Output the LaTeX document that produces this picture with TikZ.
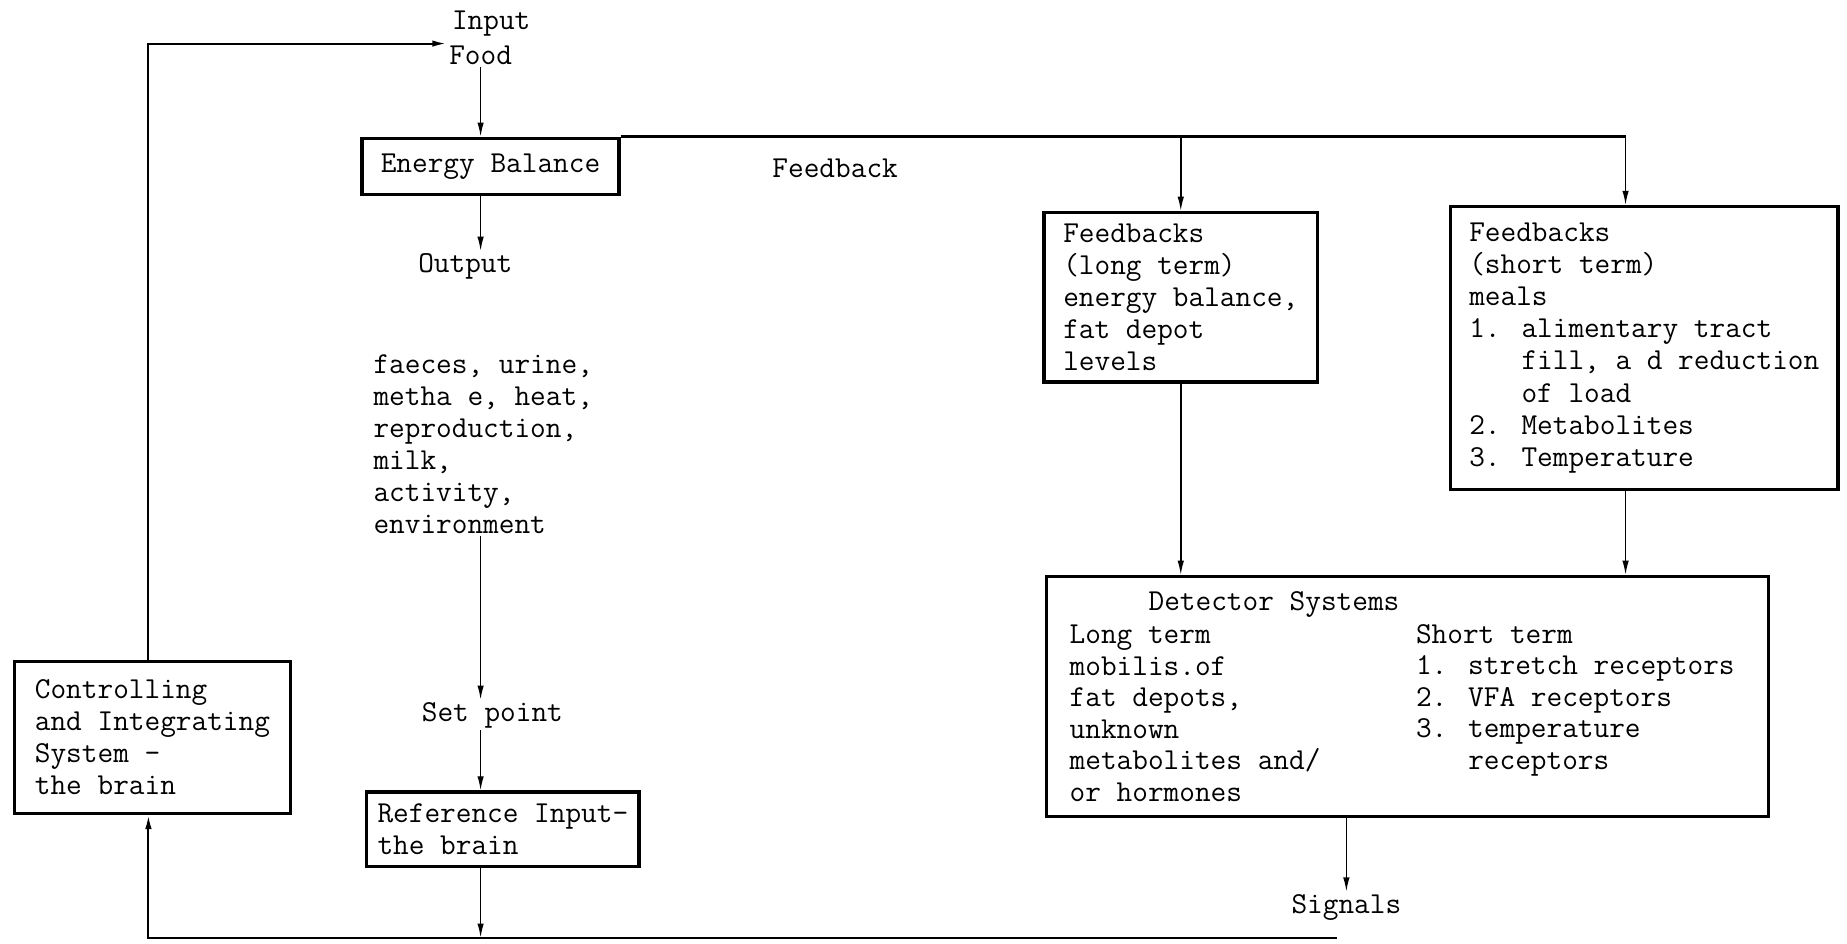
\documentclass[tikz,border=0pt]{standalone}
\usepackage{tikz}
\usetikzlibrary{arrows.meta,positioning}

\begin{document}
\begin{tikzpicture}[font={\fontsize{14.7}{15.5}\selectfont\ttfamily},>={Latex[length=2.4mm,width=1.1mm]},x=0.2mm,y=-0.2mm]
  \tikzset{
    box/.style={draw,line width=1.6pt,align=left,anchor=north west,inner xsep=1.5mm,inner ysep=1mm},
    lbl/.style={inner sep=1pt,align=left},
    flow/.style={->,line width=0.7pt},
    fbline/.style={line width=1.2pt}
  }
  \useasboundingbox (0,0) rectangle (1568,801);
  % main boxes
  \node[box,minimum width=43.6mm,minimum height=9.6mm] (eb) at (306,116) {Energy Balance};
  \node[box,minimum width=46.4mm,minimum height=28.8mm] (fblong) at (885,179)
    {Feedbacks\\(long term)\\energy balance,\\fat depot\\levels};
  \node[box,minimum width=65.8mm,minimum height=48mm] (fbshort) at (1230,174)
    {Feedbacks\\(short term)\\meals\\1. alimentary tract\\\hphantom{1. }fill, a d reduction\\\hphantom{1. }of load\\2. Metabolites\\3. Temperature};
  \node[box,minimum width=46.8mm,minimum height=25.8mm] (ctrl) at (11,560)
    {Controlling\\and Integrating\\System -\\the brain};
  \node[box,minimum width=46.2mm,minimum height=12.6mm,inner xsep=0.6mm] (ref) at (310,671)
    {Reference Input-\\the brain};
  \node[box,minimum width=122.6mm,minimum height=40.8mm] (detect) at (887,488) {};
  \node[lbl,anchor=base west] (dettitle) at (973,518) {Detector Systems};
  \node[lbl,anchor=base west,font={\fontsize{14.7}{15.2}\selectfont\ttfamily}] (detlong) at (906,680)
    {Long term\\mobilis.of\\fat depots,\\unknown\\metabolites and/\\or hormones};
  \node[lbl,anchor=base west,font={\fontsize{14.7}{15.2}\selectfont\ttfamily}] (detshort) at (1200,653)
    {Short term\\1. stretch receptors\\2. VFA receptors\\3. temperature\\\hphantom{3. }receptors};
  % labels
  \node[lbl] (input) at (417,20) {Input};
  \node[lbl] (food) at (408,47) {Food};
  \node[lbl] (output) at (395,226) {Output};
  \node[lbl] (feedback) at (709,143) {Feedback};
  \node[lbl,anchor=base west] (losses) at (315,453)
    {faeces, urine,\\metha e, heat,\\reproduction,\\milk,\\activity,\\environment};
  \node[lbl] (setpt) at (418,607) {Set point};
  \node[lbl] (signals) at (1143,770) {Signals};
  \coordinate (spine) at (408,0);
  \coordinate (loopx) at (126,0);
  \coordinate (sdrop) at (1380,0);
  \coordinate (intip) at (379,37);
  \coordinate (sigend) at (1135,796);
  % main chain
  \draw[flow] (food) -- (food |- eb.north);
  \draw[flow] (spine |- eb.south) -- (spine |- output.north);
  \draw[flow] (spine |- losses.south) -- (spine |- setpt.north);
  \draw[flow] (spine |- setpt.south) -- (spine |- ref.north);
  \draw[flow] (spine |- ref.south) -- (spine |- sigend);
  % feedback branches
  \draw[fbline] (eb.north east) -- (eb.north east -| sdrop);
  \draw[flow] (eb.north east -| fblong.north) -- (fblong.north);
  \draw[flow] (eb.north east -| sdrop) -- (sdrop |- fbshort.north);
  \draw[flow] (fblong.south) -- (fblong.south |- detect.north);
  \draw[flow] (sdrop |- fbshort.south) -- (sdrop |- detect.north);
  \draw[flow] (signals |- detect.south) -- (signals.north);
  % loop through the brain
  \draw[->,line width=1pt] (sigend) -| (loopx |- ctrl.south);
  \draw[->,line width=1pt] (loopx |- ctrl.north) |- (intip);
\end{tikzpicture}
\end{document}
